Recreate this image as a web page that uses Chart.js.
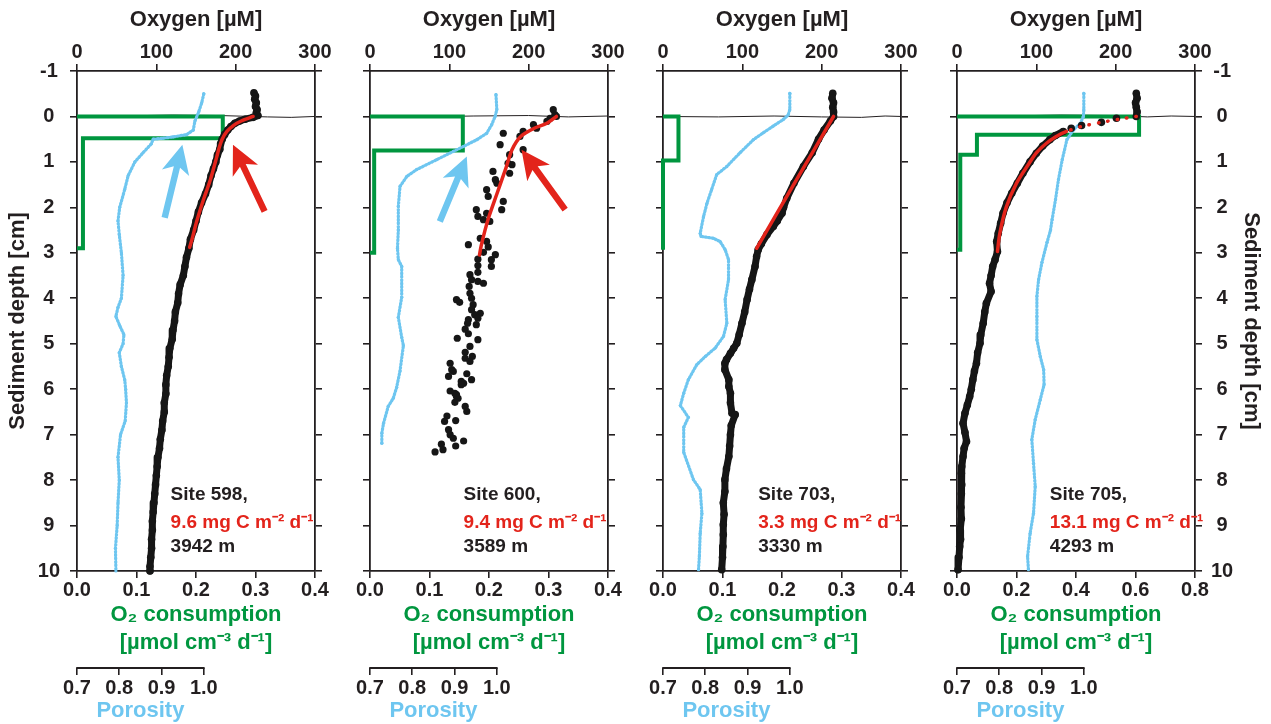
<!DOCTYPE html>
<html>
<head>
<meta charset="utf-8">
<title>Oxygen profiles</title>
<script src="https://cdn.jsdelivr.net/npm/chart.js@4.4.1/dist/chart.umd.min.js"></script>
<style>
  html, body { margin: 0; padding: 0; background: #fff; overflow: hidden; }
  #wrap { position: relative; width: 1271px; height: 724px; }
  #wrap canvas { position: absolute; top: 0; }
</style>
</head>
<body>
<div id="wrap">
  <canvas id="site598" width="392" height="724" style="left:0px"></canvas>
  <canvas id="site600" width="392" height="724" style="left:293px"></canvas>
  <canvas id="site703" width="392" height="724" style="left:586px"></canvas>
  <canvas id="site705" width="392" height="724" style="left:880px"></canvas>
</div>
<script>
// tick labels
const o2Ticks = [0, 100, 200, 300];
const rateTicks = [0, 0.1, 0.2, 0.3, 0.4];
const rateTicksWide = [0, 0.2, 0.4, 0.6, 0.8];
const porosityTicks = [0.7, 0.8, 0.9, 1.0];
const depthTicks = [-1, 0, 1, 2, 3, 4, 5, 6, 7, 8, 9, 10];

// all series are [depth cm, value]

// sediment-water interface (oxygen axis)
const interface598 = [[0, 0], [-0.01, 50], [-0.03, 120], [-0.02, 180], [0.01, 240], [0.02, 270], [0, 300]];
const interface600 = [[0, 0], [0.01, 60], [-0.01, 130], [-0.02, 200], [0.01, 250], [-0.01, 300]];
const interface703 = [[0, 0], [0.01, 70], [-0.01, 140], [0.01, 200], [0.02, 250], [-0.01, 280], [0, 300]];
const interface705 = [[0, 0], [-0.01, 60], [-0.03, 130], [-0.02, 200], [0.01, 240], [-0.01, 270], [0, 300]];

// Site 598
const o2_598 = [[-0.52, 223], [-0.45, 225], [-0.38, 224], [-0.3, 226], [-0.22, 225], [-0.15, 227], [-0.08, 226], [-0.02, 228],
  [0.02, 222], [0.06, 212], [0.1, 205], [0.15, 199], [0.22, 194], [0.3, 190], [0.4, 186], [0.5, 183], [0.6, 181], [0.72, 180],
  [0.85, 177], [1.0, 175], [1.15, 172], [1.3, 169], [1.5, 166], [1.7, 162], [1.9, 157], [2.1, 153], [2.3, 150], [2.5, 147],
  [2.7, 143], [2.9, 141], [3.1, 138], [3.3, 136], [3.5, 134], [3.7, 130], [3.9, 128], [4.1, 127], [4.3, 124], [4.5, 123],
  [4.7, 121], [4.9, 120], [5.1, 117], [5.3, 116], [5.5, 115], [5.7, 113], [5.9, 112], [6.1, 112], [6.3, 110], [6.5, 110],
  [6.7, 108], [6.9, 107], [7.1, 105], [7.3, 104], [7.5, 102], [7.7, 101], [7.9, 100], [8.1, 99], [8.3, 98], [8.5, 97],
  [8.7, 96], [8.9, 95], [9.1, 95], [9.3, 94], [9.5, 94], [9.7, 93], [9.9, 92], [10, 92]];
const fit_598 = [[0, 222], [0.1, 207], [0.2, 197], [0.33, 189], [0.5, 183], [0.7, 179], [0.9, 176], [1.4, 168], [1.8, 160],
  [2.3, 151], [2.7, 145], [2.88, 142]];
const rate_598 = [[0, 0], [0, 0.245], [0.48, 0.245], [0.48, 0.01], [2.9, 0.01], [2.9, 0]];
const por_598 = [[-0.5, 1.0], [-0.3, 0.995], [-0.1, 0.988], [0.1, 0.979], [0.3, 0.975], [0.4, 0.959], [0.45, 0.927],
  [0.48, 0.903], [0.5, 0.88], [0.6, 0.876], [0.8, 0.856], [1.0, 0.837], [1.3, 0.821], [1.6, 0.813], [2.0, 0.801],
  [2.3, 0.797], [2.6, 0.8], [3.0, 0.805], [3.5, 0.809], [4.0, 0.805], [4.2, 0.797], [4.4, 0.792], [4.6, 0.801],
  [4.8, 0.811], [5.0, 0.809], [5.2, 0.8], [5.5, 0.805], [5.8, 0.813], [6.0, 0.815], [6.3, 0.817], [6.7, 0.814],
  [7.0, 0.803], [7.5, 0.797], [8.0, 0.8], [8.5, 0.797], [9.0, 0.795], [9.5, 0.791], [10.0, 0.792]];

// Site 600
const o2_600 = [[-0.15, 231], [-0.04, 233], [0, 235], [0.04, 227], [0.11, 223], [0.18, 206], [0.26, 210], [0.33, 193],
  [0.37, 168], [0.44, 189], [0.62, 164], [0.73, 193], [0.84, 176], [1.03, 174], [1.06, 179], [1.21, 155], [1.25, 176],
  [1.39, 158], [1.47, 160], [1.61, 147], [1.76, 149], [1.87, 168], [2.05, 166], [2.05, 134], [2.13, 147], [2.2, 136],
  [2.27, 143], [2.31, 151], [2.68, 139], [2.75, 147], [2.82, 124], [2.87, 149], [2.99, 143], [3.04, 158], [3.14, 136],
  [3.15, 153], [3.28, 136], [3.3, 153], [3.43, 136], [3.48, 126], [3.59, 128], [3.63, 136], [3.67, 143], [3.74, 125],
  [3.89, 126], [4.0, 128], [4.03, 109], [4.09, 113], [4.14, 130], [4.25, 128], [4.33, 139], [4.36, 132], [4.44, 136],
  [4.47, 124], [4.55, 123], [4.58, 134], [4.68, 120], [4.78, 124], [4.88, 110], [4.91, 136], [5.06, 126], [5.19, 120],
  [5.28, 129], [5.32, 120], [5.39, 126], [5.43, 101], [5.57, 103], [5.61, 105], [5.66, 122], [5.72, 99], [5.79, 128],
  [5.83, 115], [5.87, 118], [5.9, 115], [6.04, 101], [6.09, 107], [6.12, 109], [6.16, 109], [6.2, 111], [6.29, 107],
  [6.38, 120], [6.49, 122], [6.59, 97], [6.69, 108], [6.71, 94], [6.89, 99], [7.0, 101], [7.08, 105], [7.14, 118],
  [7.21, 90], [7.25, 108], [7.33, 92], [7.38, 82]];
const fit_600 = [[0, 235], [0.15, 223], [0.26, 207], [0.44, 190], [0.73, 179], [1.1, 172], [1.7, 160], [2.2, 150],
  [2.5, 145], [2.86, 140], [3.05, 138]];
const rate_600 = [[0, 0], [0, 0.156], [0.75, 0.156], [0.75, 0.007], [3.0, 0.007], [3.0, 0]];
const por_600 = [[-0.48, 0.998], [-0.15, 1.0], [0, 0.996], [0.18, 0.988], [0.37, 0.976], [0.51, 0.953], [0.66, 0.921],
  [0.77, 0.897], [0.95, 0.858], [1.17, 0.81], [1.32, 0.787], [1.54, 0.771], [1.98, 0.767], [2.5, 0.767], [2.9, 0.765],
  [3.15, 0.767], [3.3, 0.775], [3.98, 0.775], [4.42, 0.767], [4.86, 0.775], [5.04, 0.779], [5.6, 0.771], [5.96, 0.763],
  [6.2, 0.755], [6.38, 0.743], [6.75, 0.732], [6.97, 0.728], [7.19, 0.728]];

// Site 703
const o2_703 = [[-0.51, 214], [-0.4, 213], [-0.3, 215], [-0.2, 214], [-0.1, 215], [0, 215], [0.1, 211], [0.3, 203],
  [0.5, 196], [0.8, 188], [1.1, 177], [1.47, 165], [1.8, 156], [2.0, 152], [2.13, 150], [2.3, 144], [2.42, 139],
  [2.6, 131], [2.8, 124], [2.93, 120], [3.08, 118], [3.3, 116], [3.59, 112], [3.8, 109], [4.03, 106], [4.3, 103],
  [4.55, 99.5], [4.8, 96], [4.99, 93], [5.1, 89], [5.21, 85], [5.35, 80], [5.43, 78], [5.57, 78], [5.79, 83], [5.94, 83],
  [6.09, 85], [6.3, 85], [6.53, 87], [6.56, 91], [6.8, 86], [7.0, 85], [7.25, 84], [7.48, 83], [7.75, 80], [7.99, 78],
  [8.25, 78], [8.5, 76], [8.75, 77], [8.98, 76], [9.2, 76], [9.46, 75.5], [9.7, 75], [9.97, 74]];
const fit_703 = [[0, 215], [1.4, 168], [2.9, 118]];
const rate_703 = [[0, 0], [0, 0.026], [0.97, 0.026], [0.97, 0], [2.93, 0]];
const por_703 = [[-0.51, 1.0], [-0.15, 1.0], [-0.03, 0.996], [0.07, 0.984], [0.21, 0.961], [0.36, 0.937], [0.51, 0.914],
  [0.8, 0.882], [1.1, 0.851], [1.28, 0.827], [1.61, 0.815], [1.91, 0.804], [2.2, 0.796], [2.57, 0.788], [2.64, 0.79],
  [2.68, 0.819], [2.75, 0.835], [2.93, 0.847], [3.15, 0.855], [3.59, 0.855], [4.03, 0.847], [4.55, 0.851], [4.84, 0.843],
  [5.1, 0.823], [5.28, 0.8], [5.46, 0.78], [5.79, 0.76], [6.09, 0.749], [6.36, 0.741], [6.62, 0.76], [6.84, 0.749],
  [7.39, 0.749], [7.99, 0.772], [8.21, 0.788], [8.73, 0.792], [9.17, 0.788], [9.68, 0.786], [9.97, 0.784]];

// Site 705
const o2_705 = [[-0.51, 226], [-0.4, 227], [-0.3, 225], [-0.2, 226], [-0.1, 227], [0, 226], [0.04, 201], [0.13, 182],
  [0.2, 157], [0.26, 144], [0.33, 134], [0.42, 124], [0.51, 117], [0.65, 108], [0.81, 100], [1.0, 92], [1.25, 83],
  [1.47, 76], [1.69, 69], [1.9, 63], [2.13, 58], [2.35, 55], [2.57, 52], [2.75, 50], [2.97, 51], [3.15, 48], [3.3, 45],
  [3.5, 43], [3.67, 41], [3.85, 43], [4.11, 37], [4.3, 35], [4.55, 33], [4.8, 30], [4.99, 29], [5.2, 26], [5.43, 24.5],
  [5.6, 22], [5.79, 20], [6.0, 18], [6.16, 16], [6.35, 13], [6.53, 10], [6.75, 7.6], [6.95, 10], [7.15, 12], [7.3, 9],
  [7.48, 7.6], [7.7, 6], [7.85, 5.5], [8.1, 6], [8.3, 5.5], [8.6, 5], [8.85, 5.5], [9.1, 4], [9.3, 4.5], [9.46, 3.4],
  [9.7, 2.5], [9.97, 1.3]];
const fit_705 = [[0, 226], [0.06, 205], [0.13, 182], [0.22, 157], [0.33, 138], [0.45, 124], [0.6, 112], [0.8, 100],
  [1.03, 91], [1.47, 75], [2.0, 62], [2.57, 54], [2.97, 51]];
const rate_705 = [[0, 0], [0, 0.612], [0.4, 0.612], [0.4, 0.067], [0.84, 0.067], [0.84, 0.011], [2.93, 0.011], [2.93, 0]];
const por_705 = [[-0.51, 1.0], [-0.15, 1.0], [0, 0.999], [0.15, 0.992], [0.29, 0.976], [0.51, 0.96], [0.95, 0.949],
  [1.39, 0.94], [1.83, 0.933], [2.27, 0.925], [2.51, 0.921], [2.77, 0.913], [3.21, 0.901], [3.59, 0.893], [3.96, 0.889],
  [4.4, 0.889], [4.91, 0.889], [5.28, 0.897], [5.57, 0.905], [5.9, 0.906], [6.23, 0.897], [6.67, 0.885], [7.11, 0.877],
  [7.63, 0.881], [8.14, 0.885], [8.73, 0.881], [9.17, 0.873], [9.68, 0.867], [9.97, 0.869]];

const FONT = "'Liberation Sans', Arial, sans-serif";
const INK = '#231f20';
const O2_BLACK = '#161616';
const FIT_RED = '#e3241b';
const RATE_GREEN = '#00963f';
const POR_BLUE = '#6ec6f0';

const xy = (rows) => rows.map(([d, v]) => ({ x: v, y: d }));

function drawArrow(ctx, x0, y0, x1, y1, color) {
  const len = Math.hypot(x1 - x0, y1 - y0);
  const ux = (x1 - x0) / len, uy = (y1 - y0) / len;
  const nx = -uy, ny = ux;
  const head = 29, barb = 14, shaft = 3.2, neck = 23;
  const bx = x1 - ux * head, by = y1 - uy * head;
  const sx = x1 - ux * neck, sy = y1 - uy * neck;
  ctx.save();
  ctx.fillStyle = color;
  ctx.beginPath();
  ctx.moveTo(x0 + nx * shaft, y0 + ny * shaft);
  ctx.lineTo(sx + nx * shaft, sy + ny * shaft);
  ctx.lineTo(bx + nx * barb, by + ny * barb);
  ctx.lineTo(x1, y1);
  ctx.lineTo(bx - nx * barb, by - ny * barb);
  ctx.lineTo(sx - nx * shaft, sy - ny * shaft);
  ctx.lineTo(x0 - nx * shaft, y0 - ny * shaft);
  ctx.closePath();
  ctx.fill();
  ctx.restore();
}

// arrows, site caption, and the short porosity axis under each panel
const profileNotes = {
  id: 'profileNotes',
  afterDatasetsDraw(chart, args, opts) {
    const { ctx } = chart;
    const xs = chart.scales.x, ys = chart.scales.y;
    (opts.arrows || []).forEach(a => {
      drawArrow(ctx, xs.getPixelForValue(a.from[0]), ys.getPixelForValue(a.from[1]),
        xs.getPixelForValue(a.to[0]), ys.getPixelForValue(a.to[1]), a.color);
    });
    const cap = opts.caption;
    if (cap) {
      const x = xs.getPixelForValue(cap.at[0]);
      const y = ys.getPixelForValue(cap.at[1]);
      ctx.save();
      ctx.font = 'bold 19px ' + FONT;
      ctx.textAlign = 'left';
      ctx.textBaseline = 'middle';
      cap.lines.forEach((ln, i) => {
        ctx.fillStyle = ln.color;
        ctx.fillText(ln.text, x, y + [0, 28, 52][i]);
      });
      ctx.restore();
    }
  },
  afterDraw(chart) {
    const { ctx } = chart;
    const por = chart.scales.por;
    const xa = por.getPixelForValue(porosityTicks[0]);
    const xb = por.getPixelForValue(porosityTicks[porosityTicks.length - 1]);
    ctx.save();
    ctx.strokeStyle = INK;
    ctx.lineWidth = 1.8;
    ctx.beginPath();
    ctx.moveTo(xa - 0.8, por.top);
    ctx.lineTo(xb + 0.8, por.top);
    ctx.stroke();
    ctx.font = 'bold 22px ' + FONT;
    ctx.fillStyle = POR_BLUE;
    ctx.textAlign = 'center';
    ctx.textBaseline = 'middle';
    ctx.fillText('Porosity', (xa + xb) / 2, por.bottom - 13);
    ctx.restore();
  }
};

function buildPanel(canvasId, p) {
  const tickFont = { family: FONT, size: 20, weight: 'bold' };
  const titleFont = { family: FONT, size: 22, weight: 'bold' };
  const grid = { drawOnChartArea: false, drawTicks: true, tickLength: 7, color: INK, lineWidth: 1.6 };
  const border = { display: true, color: INK, width: 1.8 };
  const setTicks = (vals) => (s) => { s.ticks = vals.map(v => ({ value: v })); };

  const depthAxis = (position, showLabels) => ({
    type: 'linear', axis: 'y', position, reverse: true, min: -1, max: 10,
    afterBuildTicks: setTicks(depthTicks),
    afterFit: (s) => { s.width = 77; },
    grid, border,
    ticks: {
      display: showLabels, font: tickFont, color: INK, crossAlign: 'center',
      padding: position === 'left' ? 10 : 9, callback: v => String(v)
    },
    title: {
      display: showLabels, text: 'Sediment depth [cm]', font: titleFont, color: INK,
      padding: { top: position === 'left' ? 5 : 8, bottom: 0 }
    }
  });

  const fitDotsTo = p.fitDotsTo || 0;
  const o2GapTo = p.o2GapTo || 0;

  return new Chart(document.getElementById(canvasId), {
    type: 'scatter',
    data: {
      datasets: [
        {
          label: 'model fit', data: xy(p.fit), xAxisID: 'x', yAxisID: 'y', order: 0,
          showLine: true, borderColor: FIT_RED, borderWidth: 3.5, pointRadius: 0, tension: 0.3,
          borderCapStyle: 'round', clip: false,
          segment: { borderDash: c => (c.p1.parsed.y <= fitDotsTo ? [0.5, 9] : undefined) }
        },
        {
          label: 'oxygen', data: xy(p.o2), xAxisID: 'x', yAxisID: 'y', order: 1,
          showLine: p.o2Line, borderColor: O2_BLACK, borderWidth: 7, borderJoinStyle: 'round',
          pointRadius: p.o2Line ? 3.8 : 3.6, pointBackgroundColor: O2_BLACK, pointBorderWidth: 0, clip: false,
          segment: { borderColor: c => (c.p0.parsed.y >= 0 && c.p1.parsed.y <= o2GapTo ? 'rgba(0,0,0,0)' : undefined) }
        },
        {
          // beaded look of the densely sampled porosity log
          label: 'porosity', data: xy(p.por), xAxisID: 'por', yAxisID: 'y', order: 2,
          showLine: true, borderColor: POR_BLUE, borderWidth: 3.2, borderDash: [1.2, 2.2],
          borderCapStyle: 'round', pointRadius: 1.6,
          pointBackgroundColor: POR_BLUE, pointBorderWidth: 0, clip: false
        },
        {
          label: 'O2 consumption', data: xy(p.rate), xAxisID: 'rate', yAxisID: 'y', order: 3,
          showLine: true, borderColor: RATE_GREEN, borderWidth: 4, pointRadius: 0,
          borderJoinStyle: 'miter', clip: false
        },
        {
          label: 'interface', data: xy(p.surface), xAxisID: 'x', yAxisID: 'y', order: 4,
          showLine: true, borderColor: INK, borderWidth: 1, pointRadius: 0, clip: false
        }
      ]
    },
    options: {
      responsive: false,
      animation: false,
      events: [],
      layout: { padding: 0 },
      plugins: {
        legend: { display: false },
        tooltip: { enabled: false },
        profileNotes: { arrows: p.arrows, caption: p.caption }
      },
      scales: {
        x: {
          type: 'linear', axis: 'x', position: 'top', min: 0, max: 300,
          afterBuildTicks: setTicks(o2Ticks),
          afterFit: (s) => { s.height = 71; },
          grid, border,
          ticks: { font: tickFont, color: INK, padding: 0, callback: v => String(v) },
          title: { display: true, text: 'Oxygen [µM]', font: titleFont, color: INK, padding: { top: 7, bottom: 0 } }
        },
        rate: {
          type: 'linear', axis: 'x', position: 'bottom', weight: 0, min: 0, max: p.rateMax,
          afterBuildTicks: setTicks(p.rateTicks),
          afterFit: (s) => { s.height = 97; },
          grid, border,
          ticks: { font: tickFont, color: INK, padding: 0, callback: v => v.toFixed(1) },
          title: {
            display: true, text: ['O₂ consumption', '[µmol cm⁻³ d⁻¹]'],
            font: { family: FONT, size: 22, weight: 'bold', lineHeight: 1.27 },
            color: RATE_GREEN, padding: { top: 0, bottom: 11 }
          }
        },
        por: {
          type: 'linear', axis: 'x', position: 'bottom', weight: 1, min: 0.7, max: 1.263,
          afterBuildTicks: setTicks(porosityTicks),
          afterFit: (s) => { s.height = 56; },
          grid, border: { display: false },
          ticks: { font: tickFont, color: INK, padding: 1, callback: v => v.toFixed(1) }
        },
        y: depthAxis('left', p.labelSide === 'left'),
        yRight: depthAxis('right', p.labelSide === 'right')
      }
    },
    plugins: [profileNotes]
  });
}

buildPanel('site598', {
  o2: o2_598, o2Line: true, fit: fit_598, rate: rate_598, por: por_598, surface: interface598,
  rateMax: 0.4, rateTicks: rateTicks, labelSide: 'left',
  arrows: [
    { from: [110.5, 2.23], to: [132.8, 0.62], color: POR_BLUE },
    { from: [236.5, 2.09], to: [196.6, 0.62], color: FIT_RED }
  ],
  caption: {
    at: [118, 8.33],
    lines: [{ text: 'Site 598,', color: INK }, { text: '9.6 mg C m⁻² d⁻¹', color: FIT_RED }, { text: '3942 m', color: INK }]
  }
});

buildPanel('site600', {
  o2: o2_600, o2Line: false, fit: fit_600, rate: rate_600, por: por_600, surface: interface600,
  rateMax: 0.4, rateTicks: rateTicks, labelSide: null,
  arrows: [
    { from: [88, 2.31], to: [122, 0.88], color: POR_BLUE },
    { from: [246, 2.05], to: [191, 0.73], color: FIT_RED }
  ],
  caption: {
    at: [118, 8.33],
    lines: [{ text: 'Site 600,', color: INK }, { text: '9.4 mg C m⁻² d⁻¹', color: FIT_RED }, { text: '3589 m', color: INK }]
  }
});

buildPanel('site703', {
  o2: o2_703, o2Line: true, fit: fit_703, rate: rate_703, por: por_703, surface: interface703,
  rateMax: 0.4, rateTicks: rateTicks, labelSide: null,
  arrows: [],
  caption: {
    at: [120, 8.33],
    lines: [{ text: 'Site 703,', color: INK }, { text: '3.3 mg C m⁻² d⁻¹', color: FIT_RED }, { text: '3330 m', color: INK }]
  }
});

buildPanel('site705', {
  o2: o2_705, o2Line: true, fit: fit_705, rate: rate_705, por: por_705, surface: interface705,
  rateMax: 0.8, rateTicks: rateTicksWide, labelSide: 'right', fitDotsTo: 0.33, o2GapTo: 0.33,
  arrows: [],
  caption: {
    at: [117, 8.33],
    lines: [{ text: 'Site 705,', color: INK }, { text: '13.1 mg C m⁻² d⁻¹', color: FIT_RED }, { text: '4293 m', color: INK }]
  }
});
</script>
</body>
</html>
